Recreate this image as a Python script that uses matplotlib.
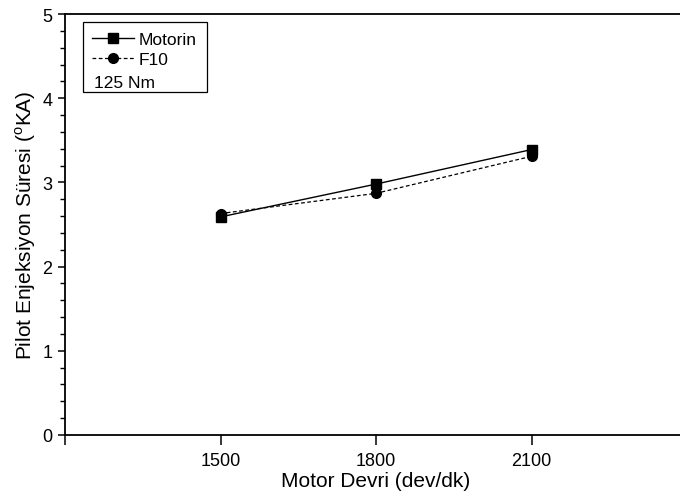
import matplotlib
matplotlib.use("Agg")
import matplotlib.pyplot as plt
from matplotlib.lines import Line2D
from matplotlib.patches import Rectangle
from matplotlib.ticker import MultipleLocator

plt.rcParams['font.family'] = ['Liberation Sans', 'DejaVu Sans']
plt.rcParams['mathtext.fontset'] = 'custom'
plt.rcParams['mathtext.rm'] = 'Liberation Sans'

# data
rpm = [1500, 1800, 2100]
motorin = [2.59, 2.98, 3.39]
f10 = [2.63, 2.87, 3.31]
xtick_vals = [1200, 1500, 1800, 2100, 2400]
xtick_labels = ['', '1500', '1800', '2100', '']

fig = plt.figure(figsize=(6.8, 5.02), dpi=100)
# right edge of the axes runs past the canvas, as in the cropped original
ax = fig.add_axes([65 / 680, 66 / 502, 622 / 680, 421 / 502])

ax.plot(rpm, motorin, color='black', linestyle='-', linewidth=1.0,
        marker='s', markersize=6.5)
ax.plot(rpm, f10, color='black', linestyle=(0, (3, 2)), linewidth=0.9,
        marker='o', markersize=7)

ax.set_xlim(1200, 2400)
ax.set_ylim(0, 5)
ax.set_xticks(xtick_vals)
ax.set_xticklabels(xtick_labels)
ax.yaxis.set_major_locator(MultipleLocator(1))
ax.yaxis.set_minor_locator(MultipleLocator(0.2))

ax.tick_params(axis='x', which='major', direction='out', length=7, width=1.1,
               labelsize=13, pad=5)
ax.tick_params(axis='y', which='major', direction='out', length=5, width=1.1,
               labelsize=13, pad=4)
ax.tick_params(axis='y', which='minor', direction='out', length=3.5, width=1.0)

for side in ['left', 'bottom', 'top']:
    ax.spines[side].set_linewidth(1.3)
ax.spines['right'].set_visible(False)

ax.set_xlabel('Motor Devri (dev/dk)', fontsize=15, labelpad=2)
ax.set_ylabel(r'Pilot Enjeksiyon Süresi ($^{\rm o}$KA)', fontsize=15)
ax.yaxis.set_label_coords(-0.044, 0.5)

# legend box with the load note underneath
ax.add_patch(Rectangle((18 / 622, 1 - 78 / 421), 124 / 622, 70 / 421,
                       transform=ax.transAxes, fill=False, edgecolor='black',
                       linewidth=0.9, zorder=5))
handles = [
    Line2D([], [], color='black', linestyle='-', linewidth=1.0,
           marker='s', markersize=6.5),
    Line2D([], [], color='black', linestyle=(0, (3, 2)), linewidth=0.9,
           marker='o', markersize=7),
]
ax.legend(handles, ['Motorin', 'F10'], loc='upper left',
          bbox_to_anchor=(27 / 622, 1 - 18 / 421), frameon=False,
          fontsize=12.5, handlelength=2.4, handletextpad=0.3,
          borderpad=0, borderaxespad=0, labelspacing=0.25)
ax.text(29 / 622, 1 - 69 / 421, '125 Nm', transform=ax.transAxes,
        fontsize=12.5, va='center', ha='left')

fig.savefig('out.png', dpi=100)
